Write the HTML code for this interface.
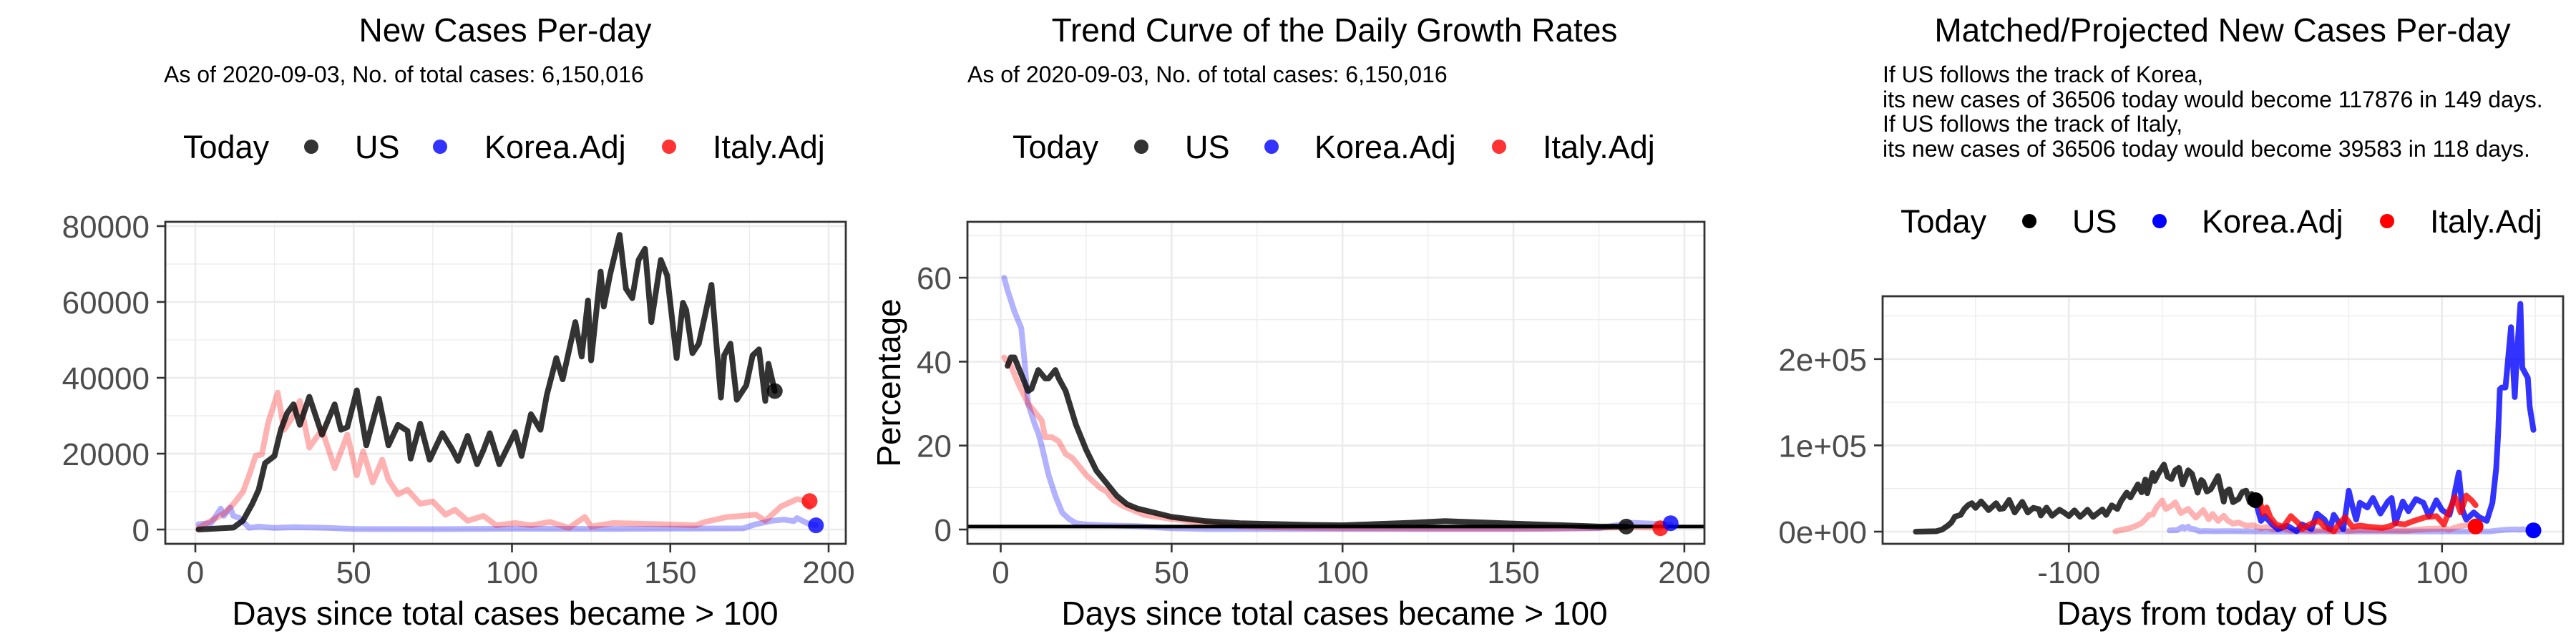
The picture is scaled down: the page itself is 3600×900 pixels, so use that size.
<!DOCTYPE html>
<html><head><meta charset="utf-8"><style>
html,body{margin:0;padding:0;background:#fff;}
svg{display:block;font-family:"Liberation Sans",Arial,sans-serif;}
</style></head><body>
<svg id="chart" xmlns="http://www.w3.org/2000/svg" width="3600" height="900" viewBox="0 0 3600 900">
<rect x="0" y="0" width="3600" height="900" fill="#fff"/>
</svg>
<script>
// ---------- Panel 1: new cases per day ----------
const usDays=[1,12,15,18,20,22,25,27,29,31,33,36,40,44,46,48,51,54,58,61,64,67,68,71,74,78,81,83,86,89,91,93,96,101,103,106,109,111,114,116,120,122,124,125,128,129,131,134,136,138,140,142,144,147,149,152,154,155,157,159,161,163,166,167,169,171,174,176,178,180,181,183];
const usCases=[0,500,2300,6800,10500,17500,19400,26300,30700,33000,27600,35000,25000,33000,26300,27000,36700,22200,34500,22200,27600,26000,18700,27900,18400,25400,21300,18100,24700,17200,21000,25400,17200,25700,19400,30400,26300,35500,45200,39600,54700,45600,60400,44600,68000,58800,67300,77700,63500,61000,71100,74000,54700,71100,67000,45200,59800,57900,46500,49000,56600,64500,34800,45900,49000,34200,38000,45900,47500,33900,43700,36500];
const italyDays=[1,5,9,12,15,17,19,21,23,26,28,31,33,36,38,40,44,48,51,53,56,59,61,64,67,71,75,79,82,86,91,95,101,106,112,118,123,125,132,147,158,161,168,173,177,180,185,190,192,194];
const italyCases=[440,2300,4200,6700,9900,14300,19400,19800,28200,36100,26300,30000,33900,21600,24000,26300,16200,25000,14300,20600,12400,18400,13100,9300,10500,6800,7400,3900,5200,2300,3600,1100,1700,1100,2000,440,3300,800,1700,1400,1100,2000,3300,3600,3900,2300,6100,8000,7700,5800];
const koreaDays=[1,5,8,9,11,12,14,17,20,25,31,41,50,76,101,132,173,177,182,186,189,190,194,196];
const koreaCases=[1400,1700,5500,3600,5800,3600,3000,440,760,440,600,450,130,100,200,150,300,1400,2300,2600,2200,3000,1400,1100];
const todayCases1=[[183,36506],[194,7500],[196,1100]]; // US, Italy, Korea
const yTicks1=[0,20000,40000,60000,80000];
const yTickLabels1=["0","20000","40000","60000","80000"];
const xTicks=[0,50,100,150,200];
const xTickLabels=["0","50","100","150","200"];

// ---------- Panel 2: growth rates ----------
const usGDays=[2,3,4,6,8,9,11,13,14,16,17,19,22,25,28,31,34,37,40,45,50,55,60,70,80,90,100,110,120,130,140,150,165,175,183];
const usGrowth=[39,41,41,37,33,33.5,38,36,36,38,36,33,25,19,14,11,8,6,5,4,3,2.5,2,1.5,1.3,1.1,1.0,1.3,1.6,2.0,1.7,1.4,1.0,0.7,0.7];
const italyGDays=[1,3,5,8,11,12,13,15,17,19,21,23,25,27,29,31,33,36,39,42,46,50,55,60,70,80,100,130,160,175,185,193];
const italyGrowth=[41,39,35,30,27,26,22,22,21,18,17,15,13,11.5,10,9,7,5.5,4.5,3.5,3,2.5,2,1.5,0.8,0.5,0.3,0.2,0.2,0.4,0.6,0.4];
const koreaGDays=[1,2,4,6,7,8,10,11,12,14,16,18,20,22,25,30,40,50,60,100,150,175,180,185,190,196];
const koreaGrowth=[60,57,52,48,40,30,25,23,20,13,8,4,2.5,1.5,1.2,1.0,0.8,0.3,0.1,0.1,0.1,0.3,1.0,1.6,1.4,1.2];
const todayGrowth=[[183,0.7],[193,0.3],[196,1.5]];
const hlineValue=0.7;
const yTicks2=[0,20,40,60];
const yTickLabels2=["0","20","40","60"];

// ---------- Panel 3: matched / projected ----------
const usShift=-183, italyShift=-76, koreaShift=-47;
const projItalyDays=[0,2,4,6,8,11,15,19,23,25,29,34,37,42,44,48,52,56,61,68,73,75,80,85,91,97,101,104,107,110,113,116,118];
const projItaly=[36506,39000,21000,28000,16700,8400,5600,18000,9800,3000,8400,12500,5600,500,7000,16700,5600,7000,5600,4200,7000,9800,8400,12500,16700,18000,8400,25000,40000,22300,41800,36000,30700];
const projKoreaDays=[0,1,3,5,9,12,17,22,25,30,33,37,40,42,47,49,50,52,54,56,60,63,67,71,73,75,79,82,86,90,93,97,100,104,106,109,111,113,117,120,124,127,129,130,131,132,134,135,137,139,140,142,143,146,147,149];
const projKorea=[36506,28000,12500,18000,8400,2800,7000,500,8400,3000,21000,14000,3000,19500,2800,30700,47400,29300,14000,33500,28000,39000,21000,34900,39000,9800,34900,23700,37700,33500,18000,36300,25000,19500,36300,68400,25000,14000,22300,16700,12500,33500,72500,110000,165000,167000,167000,190000,237000,156000,201000,264000,190000,178000,145000,117876];
const today3=[[0,36506],[118,6000],[149,1500]];
const yTicks3=[0,100000,200000];
const yTickLabels3=["0e+00","1e+05","2e+05"];
const xTicks3=[-100,0,100];
const xTickLabels3=["-100","0","100"];

const legendLabels=["US","Korea.Adj","Italy.Adj"];

// ---------- helpers ----------
const NS="http://www.w3.org/2000/svg";
const svg=document.getElementById('chart');
const LW=8;
function mk(tag,attrs,parent){const e=document.createElementNS(NS,tag);for(const k in attrs)e.setAttribute(k,attrs[k]);(parent||svg).appendChild(e);return e;}
function txt(s,x,y,size,fill,anchor,parent){const t=mk('text',{x:x,y:y,'font-size':size,fill:fill,'text-anchor':anchor||'start'},parent);t.textContent=s;return t;}

const P1={l:231,r:1182,t:310,b:760};
const x1=d=>273+d*4.425, y1=v=>740-v*424/80000;
const P2={l:1352,r:2382,t:310,b:760};
const x2=d=>1398.5+d*4.777, y2=v=>740-v*5.865;
const P3={l:2631,r:3582,t:414,b:760};
const x3=d=>3152+d*2.6075, y3=v=>743-v*120.6/100000;

function grid(P,g,xs,ys,xmin,ymin,name){
  const gg=mk('g',{},g);
  
  
  xmin.forEach(x=>mk('line',{x1:x,x2:x,y1:P.t,y2:P.b,stroke:'#ebebeb','stroke-width':1.3},gg));
  ymin.forEach(y=>mk('line',{x1:P.l,x2:P.r,y1:y,y2:y,stroke:'#ebebeb','stroke-width':1.3},gg));
  xs.forEach(x=>mk('line',{x1:x,x2:x,y1:P.t,y2:P.b,stroke:'#ebebeb','stroke-width':2.6},gg));
  ys.forEach(y=>mk('line',{x1:P.l,x2:P.r,y1:y,y2:y,stroke:'#ebebeb','stroke-width':2.6},gg));
}
function series(g,days,vals,fx,fy,shift,color,w,name){
  let d='';
  for(let i=0;i<days.length;i++){d+=(i?'L':'M')+fx(days[i]+shift).toFixed(1)+','+fy(vals[i]).toFixed(1);}
  const p=mk('path',{d:d,fill:'none',stroke:color,'stroke-width':w,'stroke-linejoin':'round','stroke-linecap':'round'},g);
  
  
  return p;
}
function dot(g,x,y,color,name){
  const c=mk('ellipse',{cx:x,cy:y,rx:11,ry:11,fill:color},g);
  
  
}
function frame(P,g){
  const r=mk('rect',{x:P.l,y:P.t,width:P.r-P.l,height:P.b-P.t,fill:'none',stroke:'#333','stroke-width':2.8},g);
  
  
}
function axes(P,g,xt,xl,fx,yt,yl,fy){
  const xa=mk('g',{},g);
  
  
  xt.forEach((v,i)=>{const x=fx(v);mk('line',{x1:x,x2:x,y1:P.b,y2:P.b+12,stroke:'#333','stroke-width':2.6},xa);
    const t=txt(xl[i],x,815,44,'#4d4d4d','middle',xa);
    
    });
  const ya=mk('g',{},g);
  
  
  yt.forEach((v,i)=>{const y=fy(v);mk('line',{x1:P.l-12,x2:P.l,y1:y,y2:y,stroke:'#333','stroke-width':2.6},ya);
    const t=txt(yl[i],P.l-22,y+16,44,'#4d4d4d','end',ya);
    
    });
}
function legend(g,y,pos,cols){
  const lg=mk('g',{},g);
  
  
  const t=txt('Today',pos[0],y+16,45,'#000','start',lg);
  
  
  for(let i=0;i<3;i++){
    const c=mk('ellipse',{cx:pos[1+2*i],cy:y,rx:10,ry:10,fill:cols[i]},lg);
    
    
    const l=txt(legendLabels[i],pos[2+2*i],y+16,45,'#000','start',lg);
    
    
  }
}
const cUS='rgba(0,0,0,0.8)', cKo='rgba(0,0,255,0.3)', cIt='rgba(255,0,0,0.3)';
const legendCols=['rgba(0,0,0,0.8)','rgba(0,0,255,0.8)','rgba(255,0,0,0.8)'];

// ---------- Panel 1 ----------
const g1=mk('g',{});


let t=txt('New Cases Per-day',706,58,46,'#000','middle',g1);


t=txt('As of 2020-09-03, No. of total cases: 6,150,016',229,115,32,'#000','start',g1);


legend(g1,205,[256,435,496,615,677,935,996],legendCols);
grid(P1,g1,xTicks.map(x1),yTicks1.map(y1),[25,75,125,175].map(x1),[10000,30000,50000,70000].map(y1),'panel1');
series(g1,koreaDays,koreaCases,x1,y1,0,cKo,LW,'korea-adj-line');
series(g1,italyDays,italyCases,x1,y1,0,cIt,LW,'italy-adj-line');
series(g1,usDays,usCases,x1,y1,0,cUS,LW,'us-line');
dot(g1,x1(todayCases1[0][0]),y1(todayCases1[0][1]),cUS,'us-today-point');
dot(g1,x1(todayCases1[1][0]),y1(todayCases1[1][1]),'rgba(255,0,0,0.8)','italy-today-point');
dot(g1,x1(todayCases1[2][0]),y1(todayCases1[2][1]),'rgba(0,0,255,0.8)','korea-today-point');
frame(P1,g1);
axes(P1,g1,xTicks,xTickLabels,x1,yTicks1,yTickLabels1,y1);
t=txt('Days since total cases became > 100',706,873,46,'#000','middle',g1);



// ---------- Panel 2 ----------
const g2=mk('g',{});


t=txt('Trend Curve of the Daily Growth Rates',1865,58,46,'#000','middle',g2);


t=txt('As of 2020-09-03, No. of total cases: 6,150,016',1352,115,32,'#000','start',g2);


legend(g2,205,[1415,1595,1656,1777,1837,2095,2156],legendCols);
grid(P2,g2,xTicks.map(x2),yTicks2.map(y2),[25,75,125,175].map(x2),[10,30,50,70].map(y2),'panel2');
series(g2,koreaGDays,koreaGrowth,x2,y2,0,cKo,LW,'korea-adj-growth-line');
series(g2,italyGDays,italyGrowth,x2,y2,0,cIt,LW,'italy-adj-growth-line');
series(g2,usGDays,usGrowth,x2,y2,0,cUS,LW,'us-growth-line');
const hl=mk('line',{x1:P2.l,x2:P2.r,y1:y2(hlineValue),y2:y2(hlineValue),stroke:'#000','stroke-width':5},g2);


dot(g2,x2(todayGrowth[0][0]),y2(todayGrowth[0][1]),cUS,'us-today-point');
dot(g2,x2(todayGrowth[1][0]),y2(todayGrowth[1][1]),'rgba(255,0,0,0.8)','italy-today-point');
dot(g2,x2(todayGrowth[2][0]),y2(todayGrowth[2][1]),'rgba(0,0,255,0.8)','korea-today-point');
frame(P2,g2);
axes(P2,g2,xTicks,xTickLabels,x2,yTicks2,yTickLabels2,y2);
t=txt('Days since total cases became > 100',1865,873,46,'#000','middle',g2);


t=txt('Percentage',0,0,46,'#000','middle',g2);
t.setAttribute('transform','translate(1258,535) rotate(-90)');



// ---------- Panel 3 ----------
const g3=mk('g',{});


t=txt('Matched/Projected New Cases Per-day',3106,58,46,'#000','middle',g3);


const notes=['If US follows the track of Korea,','its new cases of 36506 today would become 117876 in 149 days.','If US follows the track of Italy,','its new cases of 36506 today would become 39583 in 118 days.'];
const noteY=[115,150,184,219];
notes.forEach((s,i)=>{const n=txt(s,2631,noteY[i],32,'#000','start',g3);
  
  });
legend(g3,309,[2656,2836,2896,3018,3077,3336,3396],['#000','#0000ff','#ff0000']);
grid(P3,g3,xTicks3.map(x3),yTicks3.map(y3),[-150,-50,50,150].map(x3),[50000,150000,250000].map(y3),'panel3');
series(g3,koreaDays,koreaCases,x3,y3,koreaShift,cKo,LW,'korea-adj-matched-line');
series(g3,italyDays,italyCases,x3,y3,italyShift,cIt,LW,'italy-adj-matched-line');
series(g3,usDays,usCases,x3,y3,usShift,cUS,LW,'us-matched-line');
series(g3,projKoreaDays,projKorea,x3,y3,0,'rgba(0,0,255,0.8)',LW,'korea-projected-line');
series(g3,projItalyDays,projItaly,x3,y3,0,'rgba(255,0,0,0.8)',LW,'italy-projected-line');
dot(g3,x3(today3[0][0]),y3(today3[0][1]),'#000','us-today-point');
dot(g3,x3(today3[1][0]),y3(today3[1][1]),'#ff0000','italy-today-point');
dot(g3,x3(today3[2][0]),y3(today3[2][1]),'#0000ff','korea-today-point');
frame(P3,g3);
axes(P3,g3,xTicks3,xTickLabels3,x3,yTicks3,yTickLabels3,y3);
t=txt('Days from today of US',3106,873,46,'#000','middle',g3);


</script>
</body></html>
